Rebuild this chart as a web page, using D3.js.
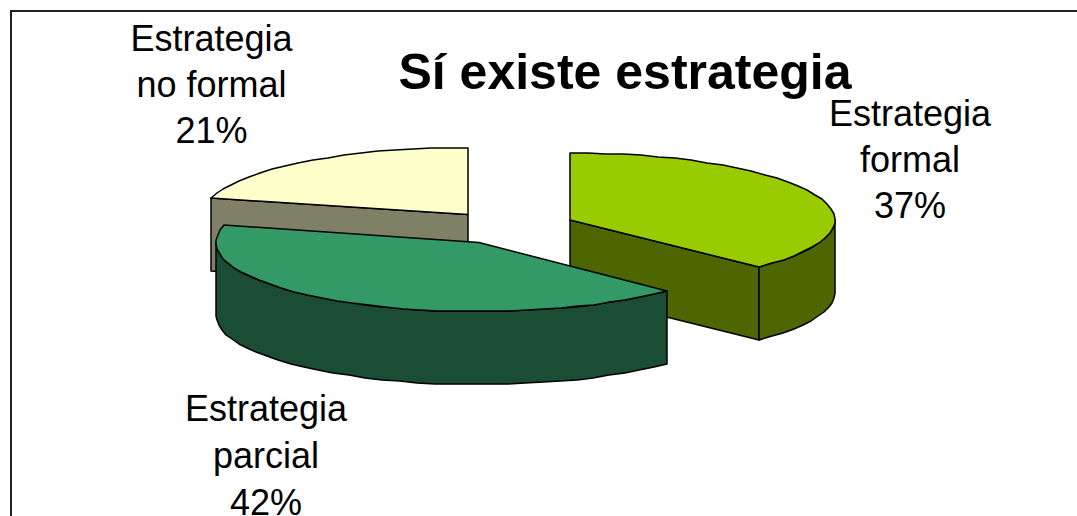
<!DOCTYPE html>
<html>
<head>
<meta charset="utf-8">
<script src="https://cdn.jsdelivr.net/npm/d3@7"></script>
<style>
  html, body { margin: 0; background: #fff; }
  svg { display: block; font-family: "Liberation Sans", Arial, sans-serif; }
</style>
</head>
<body>
<div id="chart"></div>
<script>
'use strict'

const titleText = 'Sí existe estrategia'
const categories = ['Estrategia formal', 'Estrategia parcial', 'Estrategia no formal']
const shares = [37, 42, 21]
const labelLines = [['Estrategia', 'formal', '37%'], ['Estrategia', 'parcial', '42%'], ['Estrategia', 'no formal', '21%']]

const width = 1077
const height = 516
const depth = 73
const radians = Math.PI / 180
// perspective pushes the right half of the rim slightly off the flat ellipse
const skew = 1.2 * radians

// every slice is exploded on its own, so each one has its own centre
const layout = {
  'Estrategia formal': { cx: 570, cy: 220, rx: 265, ry: 67, top: '#99cc00', side: '#4d6600', labelX: 910, labelY: 126, labelGap: 46 },
  'Estrategia parcial': { cx: 479, cy: 242.5, rx: 263, ry: 69, top: '#339966', side: '#1a4d33', labelX: 266, labelY: 421, labelGap: 47 },
  'Estrategia no formal': { cx: 468, cy: 214.5, rx: 265, ry: 67, top: '#ffffcc', side: '#808066', labelX: 211.5, labelY: 51, labelGap: 46 }
}

const svg = d3.select('#chart')
  .append('svg')
  .attr('width', width)
  .attr('height', height)

svg.append('path')
  .attr('d', `M11,${height}V11H${width}`)
  .attr('fill', 'none')
  .attr('stroke', '#222')
  .attr('stroke-width', 2)

const pie = d3.pie().sort(null)
const slices = pie(shares).map((d, i) => Object.assign({}, d, { name: categories[i], lines: labelLines[i] }, layout[categories[i]]))

// point on the slice rim, rounded to whole pixels for the stepped rim of the original
const rim = (s, angle, drop = 0) => {
  const a = angle < Math.PI ? angle - skew * Math.sin(2 * angle) : angle
  return [
    Math.round(s.cx + s.rx * Math.sin(a)),
    Math.round(s.cy - s.ry * Math.cos(a) + drop)
  ]
}

const rimPoints = (s, from, to, drop = 0) => {
  const steps = Math.max(2, Math.round(Math.abs(to - from) / (4 * radians)))
  return d3.range(steps + 1).map((k) => rim(s, from + (to - from) * k / steps, drop))
}

const line = d3.line()
const closed = (points) => line(points) + 'Z'

const topFace = (s) => closed([[s.cx, s.cy], ...rimPoints(s, s.startAngle, s.endAngle)])

// outer wall only where the rim faces the viewer
const outerWall = (s, from, to) => closed([
  ...rimPoints(s, from, to),
  ...rimPoints(s, to, from, depth)
])

const cutWall = (s, angle) => closed([
  [s.cx, s.cy],
  rim(s, angle),
  rim(s, angle, depth),
  [s.cx, s.cy + depth]
])

const draw = (d, fill) => svg.append('path')
  .attr('d', d)
  .attr('fill', fill)
  .attr('stroke', '#000')
  .attr('stroke-width', 1.5)
  .attr('stroke-linejoin', 'round')

const [formal, partial, informal] = slices

draw(cutWall(informal, informal.startAngle), informal.side)
draw(topFace(informal), informal.top)

draw(cutWall(formal, formal.endAngle), formal.side)
draw(outerWall(formal, Math.PI / 2, formal.endAngle), formal.side)
draw(topFace(formal), formal.top)

draw(outerWall(partial, partial.startAngle, 3 * Math.PI / 2), partial.side)
draw(topFace(partial), partial.top)

svg.append('text')
  .attr('x', 625)
  .attr('y', 89)
  .attr('text-anchor', 'middle')
  .attr('font-size', 50)
  .attr('font-weight', 700)
  .text(titleText)

svg.selectAll('.slice-label')
  .data(slices)
  .enter()
  .append('text')
  .attr('class', 'slice-label')
  .attr('text-anchor', 'middle')
  .attr('font-size', 36)
  .selectAll('tspan')
  .data((s) => s.lines.map((text, i) => ({ text, x: s.labelX, y: s.labelY + i * s.labelGap })))
  .enter()
  .append('tspan')
  .attr('x', (d) => d.x)
  .attr('y', (d) => d.y)
  .text((d) => d.text)
</script>
</body>
</html>
